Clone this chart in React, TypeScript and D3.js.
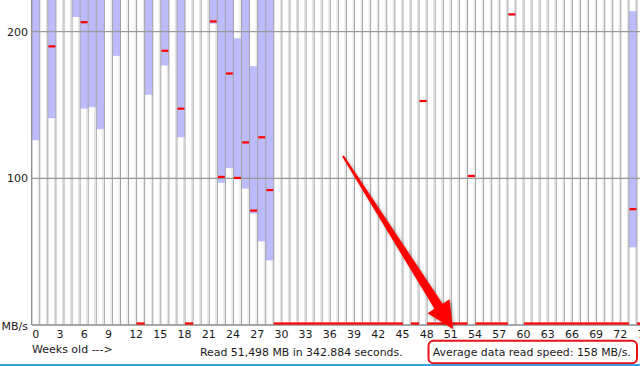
import React from 'react';
import * as d3 from 'd3';

// Week index (0 = current week)
const WEEKS: number[] = [
  0, 1, 2, 3, 4, 5, 6, 7, 8, 9, 10, 11, 12, 13, 14, 15, 16, 17, 18, 19,
  20, 21, 22, 23, 24, 25, 26, 27, 28, 29, 30, 31, 32, 33, 34, 35, 36, 37, 38, 39,
  40, 41, 42, 43, 44, 45, 46, 47, 48, 49, 50, 51, 52, 53, 54, 55, 56, 57, 58, 59,
  60, 61, 62, 63, 64, 65, 66, 67, 68, 69, 70, 71, 72, 73, 74, 75,
];

// Minimum read speed per week (MB/s), null = no data
const MIN_SPEED: (number | null)[] = [
  126, null, 141, null, null, 210, 147.5, 148.5, 133.5, null,
  183.5, null, null, 0, 157, null, 177, null, 128, 0,
  null, null, 205.5, 97, 107, 99.3, 93, 76, 57, 44,
  0, 0, 0, 0, 0, 0, 0, 0, 0, 0,
  0, 0, 0, 0, 0, 0, null, 0, 152, 0,
  0, 0, 0, 0, 101, 0, 0, 0, 0, 211,
  null, 0, 0, 0, 0, 0, 0, 0, 0, 0,
  0, 0, 0, 0, 53, 0,
];

// Maximum read speed per week (MB/s)
const MAX_SPEED: (number | null)[] = [
  250, null, 250, null, null, 240, 250, 250, 250, null,
  250, null, null, 0, 250, null, 250, null, 250, 0,
  null, null, 250, 250, 250, 195.5, 250, 176.5, 250, 250,
  0, 0, 0, 0, 0, 0, 0, 0, 0, 0,
  0, 0, 0, 0, 0, 0, null, 0, 153.5, 0,
  0, 0, 0, 0, 102.5, 0, 0, 0, 0, 212.5,
  null, 0, 0, 0, 0, 0, 0, 0, 0, 0,
  0, 0, 0, 0, 214, 0,
];

// Average read speed per week (MB/s)
const AVG_SPEED: (number | null)[] = [
  232, null, 190, null, null, 228, 206.5, 230, 228, null,
  226, null, null, 0, 230, null, 187, null, 147.5, 0,
  null, null, 207, 101, 171.5, 100.3, 124.5, 78, 128, 92,
  0, 0, 0, 0, 0, 0, 0, 0, 0, 0,
  0, 0, 0, 0, 0, 0, null, 0, 152.7, 0,
  0, 0, 0, 0, 101.6, 0, 0, 0, 0, 211.8,
  null, 0, 0, 0, 0, 0, 0, 0, 0, 0,
  0, 0, 0, 0, 79, 0,
];

const X_TICKS: number[] = [0, 3, 6, 9, 12, 15, 18, 21, 24, 27, 30, 33, 36, 39, 42, 45, 48, 51, 54, 57, 60, 63, 66, 69, 72, 75];
const Y_TICKS: number[] = [100, 200];

const W = 640;
const H = 366;
const LEFT = 31.7;
const STEP = 8.07;
const BASE_Y = 325;
const FONT = "'DejaVu Sans', Verdana, sans-serif";

export default function App() {
  const x = d3
    .scaleBand<number>()
    .domain(WEEKS)
    .range([LEFT, LEFT + WEEKS.length * STEP])
    .paddingInner(0)
    .paddingOuter(0);
  const step = x.step();
  const y = d3.scaleLinear().domain([0, 200]).range([BASE_Y, 31.7]);

  // arrow geometry (annotation)
  const tail: [number, number] = [343, 156];
  const tip: [number, number] = [453, 329];
  const dx = tip[0] - tail[0];
  const dy = tip[1] - tail[1];
  const len = Math.hypot(dx, dy);
  const ux = dx / len;
  const uy = dy / len;
  const px = uy;
  const py = -ux;
  const headLen = 27;
  const headHalf = 13;
  const base: [number, number] = [tip[0] - ux * headLen, tip[1] - uy * headLen];
  const arrowPts: [number, number][] = [
    [tail[0] + px * 1, tail[1] + py * 1],
    [base[0] + px * 4.8, base[1] + py * 4.8],
    [base[0] + px * headHalf, base[1] + py * headHalf],
    tip,
    [base[0] - px * headHalf, base[1] - py * headHalf],
    [base[0] - px * 4.8, base[1] - py * 4.8],
    [tail[0] - px * 1, tail[1] - py * 1],
  ];
  const arrowPath = d3.line()(arrowPts) + 'Z';

  return (
    <svg
      width={W}
      height={H}
      viewBox={`0 0 ${W} ${H}`}
      style={{ position: 'fixed', left: 0, top: 0, background: '#ffffff' }}
    >
      <defs>
        <filter id="shadow" x="-20%" y="-20%" width="140%" height="140%">
          <feDropShadow dx="1.5" dy="1.5" stdDeviation="1.5" floodColor="#000" floodOpacity="0.35" />
        </filter>
      </defs>
      <rect x={0} y={0} width={W} height={H} fill="#ffffff" />

      {/* light shadow edge of each (white) week cell */}
      {WEEKS.map((w) => (
        <line
          key={'s' + w}
          x1={x(w)! + step - 1.5}
          x2={x(w)! + step - 1.5}
          y1={0}
          y2={BASE_Y}
          stroke="#e0e0e0"
          strokeWidth={1}
        />
      ))}

      {/* range bars */}
      {WEEKS.map((w, i) => {
        const mn = MIN_SPEED[i];
        const mx = MAX_SPEED[i];
        if (mn == null || mx == null || mx <= mn) return null;
        const y0 = Math.max(y(mx), 0);
        return (
          <rect
            key={'b' + w}
            x={x(w)!}
            y={y0}
            width={step}
            height={y(mn) - y0}
            fill="#bcbcfd"
          />
        );
      })}

      {/* vertical week grid lines */}
      {WEEKS.map((w) => (
        <line
          key={'g' + w}
          x1={x(w)! + step}
          x2={x(w)! + step}
          y1={0}
          y2={BASE_Y}
          stroke="#a0a0a0"
          strokeWidth={1}
        />
      ))}

      {/* horizontal grid lines */}
      {Y_TICKS.map((t) => (
        <line key={'h' + t} x1={LEFT} x2={W} y1={y(t)} y2={y(t)} stroke="#999999" strokeWidth={1.3} />
      ))}

      {/* axes */}
      <line x1={LEFT} x2={LEFT} y1={0} y2={BASE_Y} stroke="#8a8a8a" strokeWidth={1.3} />
      <line x1={LEFT} x2={W} y1={BASE_Y} y2={BASE_Y} stroke="#8a8a8a" strokeWidth={1.5} />

      {/* average markers */}
      {WEEKS.map((w, i) => {
        const a = AVG_SPEED[i];
        if (a == null) return null;
        const cy = a === 0 ? BASE_Y - 1.5 : y(a);
        return (
          <rect
            key={'a' + w}
            x={x(w)! + (a === 0 ? 0 : 0.6)}
            y={cy - 1.1}
            width={a === 0 ? step : step - 1.2}
            height={2.2}
            fill="#ff0000"
          />
        );
      })}

      {/* y labels */}
      {Y_TICKS.map((t) => (
        <text key={'yl' + t} x={28} y={y(t) + 4} textAnchor="end" fontFamily={FONT} fontSize={11} fill="#1a1a1a">
          {t}
        </text>
      ))}
      <text x={28} y={BASE_Y + 4.5} textAnchor="end" fontFamily={FONT} fontSize={11} fill="#1a1a1a">
        MB/s
      </text>

      {/* x labels */}
      {X_TICKS.map((t) => (
        <text key={'xl' + t} x={x(t)! + 0.6} y={338} fontFamily={FONT} fontSize={11} fill="#1a1a1a">
          {t}
        </text>
      ))}

      <text x={32} y={353.3} fontFamily={FONT} fontSize={11} fill="#1a1a1a">
        Weeks old ---&gt;
      </text>
      <text x={200} y={355.5} fontFamily={FONT} fontSize={10.9} fill="#1a1a1a">
        Read 51,498 MB in 342.884 seconds.
      </text>
      <text x={432.7} y={355.5} fontFamily={FONT} fontSize={10.9} fill="#1a1a1a">
        Average data read speed: 158 MB/s.
      </text>

      {/* annotation box + arrow */}
      <rect x={428.5} y={340.7} width={208.5} height={22.6} rx={5} ry={5} fill="none" stroke="#e8141c" strokeWidth={2} />
      <path d={arrowPath} fill="#ff0000" filter="url(#shadow)" />

      {/* window border */}
      <rect x={0} y={364} width={W} height={2} fill="#3d9fe0" />
    </svg>
  );
}
